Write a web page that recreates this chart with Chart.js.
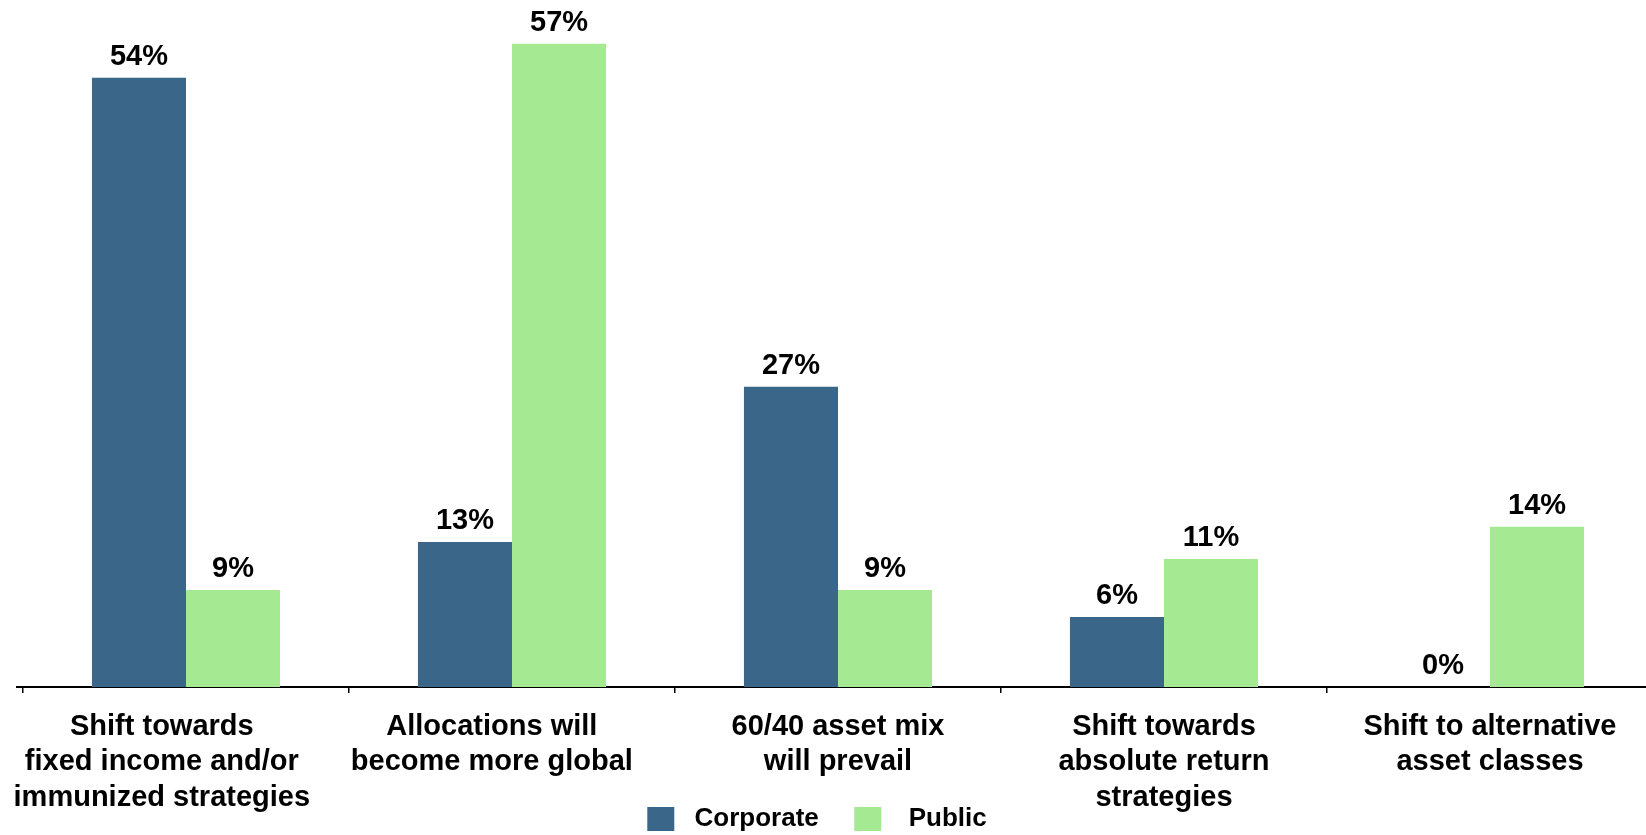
<!DOCTYPE html>
<html>
<head>
<meta charset="utf-8">
<script src="https://cdn.jsdelivr.net/npm/chart.js@4.4.1/dist/chart.umd.min.js"></script>
<style>
  html, body { margin: 0; padding: 0; background: #ffffff; overflow: hidden; }
  #wrap { width: 1660px; height: 842px; }
</style>
</head>
<body>
<div id="wrap"><canvas id="c" width="1660" height="842"></canvas></div>
<script>
const categories = [
  ["Shift towards", "fixed income and/or", "immunized strategies"],
  ["Allocations will", "become more global"],
  ["60/40 asset mix", "will prevail"],
  ["Shift towards", "absolute return", "strategies"],
  ["Shift to alternative", "asset classes"]
];
const seriesNames = ["Corporate", "Public"];
const corporateValues = [54.0, 12.85, 26.6, 6.2, 0];
const publicValues = [8.6, 57.0, 8.6, 11.35, 14.2];

// layout only: how far (in trailing spaces) each category label sits left of its bar pair
const labelNudge = [6, 5, 0, 0, 0];

const FONT = "'Liberation Sans', Arial, Helvetica, sans-serif";

const valueLabels = {
  id: 'valueLabels',
  afterDatasetsDraw(chart) {
    const ctx = chart.ctx;
    ctx.save();
    ctx.font = "bold 29px " + FONT;
    ctx.fillStyle = '#000000';
    ctx.textAlign = 'center';
    ctx.textBaseline = 'alphabetic';
    chart.data.datasets.forEach((ds, di) => {
      const meta = chart.getDatasetMeta(di);
      meta.data.forEach((bar, i) => {
        const v = ds.data[i];
        ctx.fillText(Math.round(v) + '%', bar.x, bar.y - 13);
      });
    });
    ctx.restore();
  }
};

const axisExtras = {
  id: 'axisExtras',
  afterLayout(chart) {
    if (chart.legend) {
      chart.legend.left -= 21;
      chart.legend.right -= 21;
    }
    // let the multi-line category labels extend below the fitted axis box
    chart.scales.x.bottom += 90;
  },
  afterDraw(chart) {
    const ctx = chart.ctx;
    const a = chart.chartArea;
    ctx.save();
    ctx.strokeStyle = '#000000';
    ctx.lineWidth = 2;
    ctx.beginPath();
    ctx.moveTo(16, a.bottom);
    ctx.lineTo(a.left, a.bottom);
    ctx.stroke();
    ctx.restore();
  }
};

new Chart(document.getElementById('c'), {
  type: 'bar',
  data: {
    labels: categories,
    datasets: [
      { label: seriesNames[0], data: corporateValues, backgroundColor: '#3A6789', borderWidth: 0,
        categoryPercentage: 0.577, barPercentage: 1.0 },
      { label: seriesNames[1], data: publicValues, backgroundColor: '#A5EA93', borderWidth: 0,
        categoryPercentage: 0.577, barPercentage: 1.0 }
    ]
  },
  options: {
    responsive: false,
    animation: false,
    layout: { padding: { left: 23, right: 7, top: 10, bottom: 0 } },
    plugins: {
      tooltip: { enabled: false },
      legend: {
        display: true,
        position: 'bottom',
        labels: {
          font: { family: FONT, size: 26, weight: 'bold' },
          color: '#000000',
          boxWidth: 27,
          boxHeight: 24,
          padding: 35.5,
          generateLabels(chart) {
            return Chart.defaults.plugins.legend.labels.generateLabels(chart)
              .map((l, i) => Object.assign(l, { text: (i === 0 ? ' ' : '  ') + l.text, lineWidth: 0 }));
          }
        }
      }
    },
    scales: {
      x: {
        offset: true,
        grid: { display: true, drawOnChartArea: false, drawTicks: true, tickLength: 6,
                color: '#000000', lineWidth: 1.5 },
        border: { display: true, color: '#000000', width: 2 },
        ticks: {
          font: { family: FONT, size: 29, weight: 'bold', lineHeight: 1.224 },
          color: '#000000',
          padding: 16,
          maxRotation: 0,
          autoSkip: false,
          callback(value, index) {
            const lab = this.getLabelForValue(value);
            const pad = ' '.repeat(labelNudge[index] || 0);
            return Array.isArray(lab) ? lab.map(s => s + pad) : lab + pad;
          }
        },
        afterFit(scale) {
          scale.height = 83.5;
          scale.paddingLeft = 0;
          scale.paddingRight = 0;
        }
      },
      y: {
        display: false,
        min: 0,
        max: 60
      }
    }
  },
  plugins: [valueLabels, axisExtras]
});
</script>
</body>
</html>
